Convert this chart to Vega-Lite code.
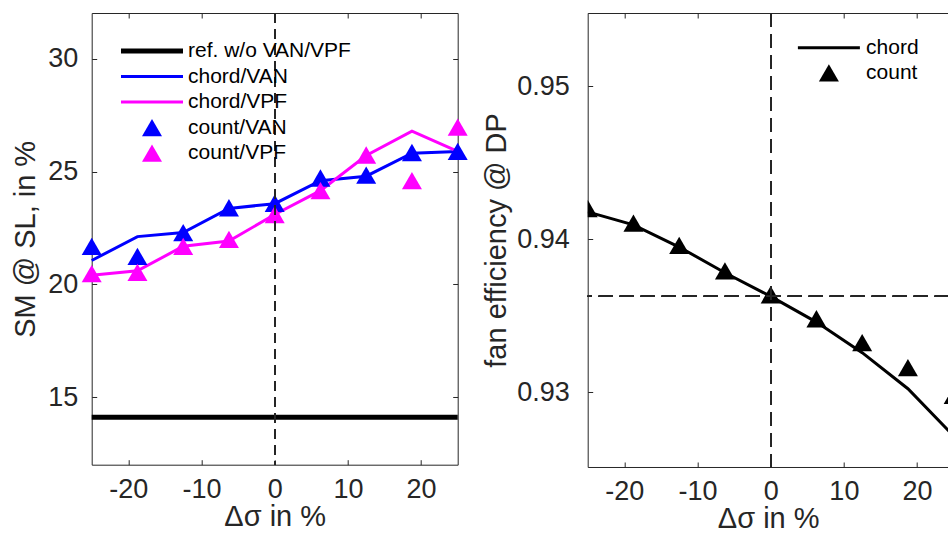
{
  "$schema": "https://vega.github.io/schema/vega-lite/v6.json",
  "padding": {"left": 10.7, "top": 11, "right": 0, "bottom": 0},
  "background": "white",
  "config": {
    "view": {"stroke": null},
    "font": "Liberation Sans",
    "axis": {
      "grid": true,
      "gridColor": "#262626",
      "gridOpacity": 1,
      "gridWidth": 1,
      "ticks": false,
      "domain": false,
      "labelColor": "#262626",
      "titleColor": "#262626",
      "labelFont": "Liberation Sans",
      "titleFont": "Liberation Sans",
      "labelFontSize": 27,
      "titleFontSize": 29,
      "titleFontWeight": "normal"
    }
  },
  "datasets": {
    "left": [
      {"series": "ref. w/o VAN/VPF", "x": 0, "y": 14.1},
      {"series": "chord/VAN", "x": -25, "y": 21.06},
      {"series": "chord/VAN", "x": -18.75, "y": 22.12},
      {"series": "chord/VAN", "x": -12.5, "y": 22.3},
      {"series": "chord/VAN", "x": -6.25, "y": 23.37},
      {"series": "chord/VAN", "x": 0, "y": 23.58},
      {"series": "chord/VAN", "x": 6.25, "y": 24.6},
      {"series": "chord/VAN", "x": 12.5, "y": 24.8},
      {"series": "chord/VAN", "x": 18.75, "y": 25.82},
      {"series": "chord/VAN", "x": 25, "y": 25.9},
      {"series": "chord/VPF", "x": -25, "y": 20.41},
      {"series": "chord/VPF", "x": -18.75, "y": 20.6},
      {"series": "chord/VPF", "x": -12.5, "y": 21.69},
      {"series": "chord/VPF", "x": -6.25, "y": 21.92},
      {"series": "chord/VPF", "x": 0, "y": 23.1},
      {"series": "chord/VPF", "x": 6.25, "y": 24.16},
      {"series": "chord/VPF", "x": 12.5, "y": 25.72},
      {"series": "chord/VPF", "x": 18.75, "y": 26.8},
      {"series": "chord/VPF", "x": 25, "y": 25.9},
      {"series": "count/VAN", "x": -25, "y": 21.69},
      {"series": "count/VAN", "x": -18.75, "y": 21.24},
      {"series": "count/VAN", "x": -12.5, "y": 22.3},
      {"series": "count/VAN", "x": -6.25, "y": 23.4},
      {"series": "count/VAN", "x": 0, "y": 23.6},
      {"series": "count/VAN", "x": 6.25, "y": 24.72},
      {"series": "count/VAN", "x": 12.5, "y": 24.85},
      {"series": "count/VAN", "x": 18.75, "y": 25.85},
      {"series": "count/VAN", "x": 25, "y": 25.9},
      {"series": "count/VPF", "x": -25, "y": 20.48},
      {"series": "count/VPF", "x": -18.75, "y": 20.53},
      {"series": "count/VPF", "x": -12.5, "y": 21.69},
      {"series": "count/VPF", "x": -6.25, "y": 22.0},
      {"series": "count/VPF", "x": 0, "y": 23.1},
      {"series": "count/VPF", "x": 6.25, "y": 24.16},
      {"series": "count/VPF", "x": 12.5, "y": 25.74},
      {"series": "count/VPF", "x": 18.75, "y": 24.6},
      {"series": "count/VPF", "x": 25, "y": 26.98}
    ],
    "right": [
      {"series": "chord", "x": -25, "y": 0.94179},
      {"series": "chord", "x": -18.75, "y": 0.94094},
      {"series": "chord", "x": -12.5, "y": 0.93949},
      {"series": "chord", "x": -6.25, "y": 0.93781},
      {"series": "chord", "x": 0, "y": 0.93626},
      {"series": "chord", "x": 6.25, "y": 0.93458},
      {"series": "chord", "x": 12.5, "y": 0.93258},
      {"series": "chord", "x": 18.75, "y": 0.93022},
      {"series": "chord", "x": 25, "y": 0.92713},
      {"series": "count", "x": -25, "y": 0.94201},
      {"series": "count", "x": -18.75, "y": 0.94105},
      {"series": "count", "x": -12.5, "y": 0.9396},
      {"series": "count", "x": -6.25, "y": 0.93793},
      {"series": "count", "x": 0, "y": 0.93637},
      {"series": "count", "x": 6.25, "y": 0.9348},
      {"series": "count", "x": 12.5, "y": 0.93324},
      {"series": "count", "x": 18.75, "y": 0.9316},
      {"series": "count", "x": 25, "y": 0.92978}
    ]
  },
  "resolve": {"scale": {"color": "independent"}, "legend": {"color": "independent"}},
  "spacing": 13,
  "hconcat": [
    {
      "width": 366,
      "height": 451.7,
      "view": {"stroke": "#262626", "strokeWidth": 1},
      "data": {"name": "left"},
      "layer": [
        {
          "transform": [{"filter": "datum.series === 'ref. w/o VAN/VPF'"}],
          "mark": {"type": "rule", "strokeWidth": 5},
          "encoding": {
            "y": {
              "field": "y", "type": "quantitative",
              "scale": {"domain": [12, 32.04], "nice": false, "zero": false},
              "axis": {"orient": "left", "values": [15, 20, 25, 30], "title": "SM @ SL, in %", "labelPadding": 14, "titlePadding": 7, "gridDash": [5, 356, 5, 10]}
            },
            "color": {
              "field": "series", "type": "nominal",
              "scale": {
                "domain": ["ref. w/o VAN/VPF", "chord/VAN", "chord/VPF", "count/VAN", "count/VPF"],
                "range": ["#000000", "#0000ff", "#ff00ff", "#0000ff", "#ff00ff"]
              },
              "legend": {
                "title": null,
                "orient": "none",
                "legendX": 49.8,
                "legendY": 27.6,
                "padding": 0,
                "labelFont": "Liberation Sans",
                "labelFontSize": 21,
                "labelColor": "#000000",
                "labelLimit": 500,
                "labelOffset": 25.5,
                "rowPadding": 3.5,
                "symbolOffset": 0,
                "symbolSize": 400,
                "encode": {
                  "symbols": {
                    "update": {
                      "shape": {"signal": "(slice(datum.value,0,5)==='count') ? 'triangle-up' : 'M-3.1,0H3.1'"},
                      "strokeWidth": {"signal": "(datum.value==='ref. w/o VAN/VPF') ? 5 : ((slice(datum.value,0,5)==='count') ? 0 : 3)"},
                      "fill": {"signal": "(slice(datum.value,0,5)==='count') ? ((indexof(datum.value,'VAN')>=0) ? '#0000ff' : '#ff00ff') : 'transparent'"},
                      "stroke": {"signal": "(datum.value==='ref. w/o VAN/VPF') ? '#000000' : ((indexof(datum.value,'VAN')>=0) ? '#0000ff' : '#ff00ff')"},
                      "opacity": {"value": 1}
                    }
                  }
                }
              }
            }
          }
        },
        {
          "transform": [{"filter": "slice(datum.series,0,5) === 'chord'"}],
          "mark": {"type": "line", "strokeWidth": 3},
          "encoding": {
            "x": {
              "field": "x", "type": "quantitative",
              "scale": {"domain": [-25, 25], "nice": false, "zero": false},
              "axis": {"orient": "bottom", "values": [-20, -10, 0, 10, 20], "labelExpr": "'' + datum.value", "title": "Δσ in %", "labelPadding": 12, "titlePadding": 0, "gridDash": [5, 441.7, 5, 10]}
            },
            "y": {
              "field": "y", "type": "quantitative",
              "scale": {"domain": [12, 32.04], "nice": false, "zero": false},
              "axis": {"orient": "left", "values": [15, 20, 25, 30], "title": "SM @ SL, in %", "labelPadding": 14, "titlePadding": 7, "gridDash": [5, 356, 5, 10]}
            },
            "color": {"field": "series", "type": "nominal"}
          }
        },
        {
          "transform": [{"filter": "slice(datum.series,0,5) === 'count'"}],
          "mark": {"type": "point", "shape": "triangle-up", "filled": true, "size": 400, "opacity": 1, "strokeWidth": 0},
          "encoding": {
            "x": {
              "field": "x", "type": "quantitative",
              "scale": {"domain": [-25, 25], "nice": false, "zero": false},
              "axis": {"orient": "bottom", "values": [-20, -10, 0, 10, 20], "labelExpr": "'' + datum.value", "title": "Δσ in %", "labelPadding": 12, "titlePadding": 0, "gridDash": [5, 441.7, 5, 10]}
            },
            "y": {
              "field": "y", "type": "quantitative",
              "scale": {"domain": [12, 32.04], "nice": false, "zero": false},
              "axis": {"orient": "left", "values": [15, 20, 25, 30], "title": "SM @ SL, in %", "labelPadding": 14, "titlePadding": 7, "gridDash": [5, 356, 5, 10]}
            },
            "color": {"field": "series", "type": "nominal"}
          }
        },
        {
          "mark": {"type": "rule", "strokeDash": [10, 6], "strokeWidth": 1.3, "color": "#262626"},
          "encoding": {
            "x": {
              "datum": 0, "type": "quantitative",
              "scale": {"domain": [-25, 25], "nice": false, "zero": false},
              "axis": {"orient": "bottom", "values": [-20, -10, 0, 10, 20], "labelExpr": "'' + datum.value", "title": "Δσ in %", "labelPadding": 12, "titlePadding": 0, "gridDash": [5, 441.7, 5, 10]}
            }
          }
        }
      ]
    },
    {
      "width": 361,
      "height": 454,
      "view": {"stroke": "#262626", "strokeWidth": 1, "strokeDash": [361, 454, 815]},
      "data": {"name": "right"},
      "layer": [
        {
          "transform": [{"filter": "datum.series === 'chord'"}],
          "mark": {"type": "line", "strokeWidth": 3, "clip": true},
          "encoding": {
            "x": {
              "field": "x", "type": "quantitative",
              "scale": {"domain": [-25, 24.32], "nice": false, "zero": false},
              "axis": {"orient": "bottom", "values": [-20, -10, 0, 10, 20], "labelExpr": "'' + datum.value", "title": "Δσ in %", "labelPadding": 12, "titlePadding": 0, "gridDash": [5, 444, 5, 10]}
            },
            "y": {
              "field": "y", "type": "quantitative",
              "scale": {"domain": [0.9251, 0.9548], "nice": false, "zero": false},
              "axis": {"orient": "left", "values": [0.93, 0.94, 0.95], "format": ".2f", "title": "fan efficiency @ DP", "labelPadding": 18.4, "titlePadding": 5.5, "gridDash": [5, 400]}
            },
            "color": {
              "field": "series", "type": "nominal",
              "scale": {"domain": ["chord", "count"], "range": ["#000000", "#000000"]},
              "legend": {
                "title": null,
                "orient": "none",
                "legendX": 230.7,
                "legendY": 24.2,
                "padding": 0,
                "labelFont": "Liberation Sans",
                "labelFontSize": 21,
                "labelColor": "#000000",
                "labelLimit": 500,
                "labelOffset": 26.7,
                "rowPadding": 3.2,
                "symbolOffset": 0,
                "symbolSize": 400,
                "encode": {
                  "symbols": {
                    "update": {
                      "shape": {"signal": "(datum.value==='count') ? 'triangle-up' : 'M-3.1,0H3.1'"},
                      "strokeWidth": {"signal": "(datum.value==='count') ? 0 : 3"},
                      "fill": {"signal": "(datum.value==='count') ? '#000000' : 'transparent'"},
                      "stroke": {"value": "#000000"},
                      "opacity": {"value": 1}
                    }
                  }
                }
              }
            }
          }
        },
        {
          "transform": [{"filter": "datum.series === 'count'"}],
          "mark": {"type": "point", "shape": "triangle-up", "filled": true, "size": 400, "opacity": 1, "strokeWidth": 0, "clip": true},
          "encoding": {
            "x": {
              "field": "x", "type": "quantitative",
              "scale": {"domain": [-25, 24.32], "nice": false, "zero": false},
              "axis": {"orient": "bottom", "values": [-20, -10, 0, 10, 20], "labelExpr": "'' + datum.value", "title": "Δσ in %", "labelPadding": 12, "titlePadding": 0, "gridDash": [5, 444, 5, 10]}
            },
            "y": {
              "field": "y", "type": "quantitative",
              "scale": {"domain": [0.9251, 0.9548], "nice": false, "zero": false},
              "axis": {"orient": "left", "values": [0.93, 0.94, 0.95], "format": ".2f", "title": "fan efficiency @ DP", "labelPadding": 18.4, "titlePadding": 5.5, "gridDash": [5, 400]}
            },
            "color": {"field": "series", "type": "nominal"}
          }
        },
        {
          "mark": {"type": "rule", "strokeDash": [14, 7], "strokeWidth": 1.3, "color": "#262626"},
          "encoding": {
            "x": {
              "datum": 0, "type": "quantitative",
              "scale": {"domain": [-25, 24.32], "nice": false, "zero": false},
              "axis": {"orient": "bottom", "values": [-20, -10, 0, 10, 20], "labelExpr": "'' + datum.value", "title": "Δσ in %", "labelPadding": 12, "titlePadding": 0, "gridDash": [5, 444, 5, 10]}
            }
          }
        },
        {
          "mark": {"type": "rule", "strokeDash": [14, 7], "strokeWidth": 1.3, "color": "#262626"},
          "encoding": {
            "y": {
              "datum": 0.93626, "type": "quantitative",
              "scale": {"domain": [0.9251, 0.9548], "nice": false, "zero": false},
              "axis": {"orient": "left", "values": [0.93, 0.94, 0.95], "format": ".2f", "title": "fan efficiency @ DP", "labelPadding": 18.4, "titlePadding": 5.5, "gridDash": [5, 400]}
            }
          }
        }
      ]
    }
  ]
}
